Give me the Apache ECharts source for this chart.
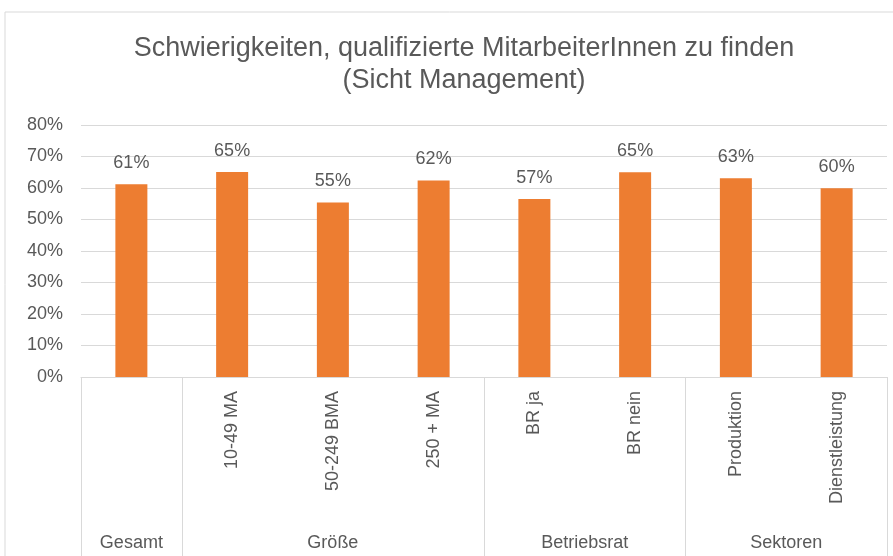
<!DOCTYPE html>
<html>
<head>
<meta charset="utf-8">
<script src="https://cdn.jsdelivr.net/npm/echarts@6/dist/echarts.min.js"></script>
<style>
  html, body { margin: 0; padding: 0; background: #fff; }
  #chart { width: 893px; height: 556px; }
</style>
</head>
<body>
<div id="chart"></div>
<script>
  var categories = ['', '10-49 MA', '50-249 BMA', '250 + MA', 'BR ja', 'BR nein', 'Produktion', 'Dienstleistung'];
  var values = [61.2, 65.1, 55.4, 62.4, 56.5, 65.0, 63.1, 59.9];
  var groupNames = ['Gesamt', 'Größe', 'Betriebsrat', 'Sektoren'];
  var groupCenters = [0.5, 2.5, 5, 7];
  var groupBounds = [0, 1, 4, 6, 8];
  var yTicks = [0, 10, 20, 30, 40, 50, 60, 70, 80];

  var textColor = '#595959';
  var lineColor = '#d9d9d9';
  var font = "'Liberation Sans', Arial, sans-serif";

  var myChart = echarts.init(document.getElementById('chart'));
  var option = {
    animation: false,
    textStyle: { fontFamily: font },
    graphic: [{
      type: 'rect',
      z: -10,
      shape: { x: 5, y: 12, width: 900, height: 560 },
      style: { fill: 'none', stroke: lineColor, lineWidth: 1 }
    }],
    title: {
      text: 'Schwierigkeiten, qualifizierte MitarbeiterInnen zu finden\n(Sicht Management)',
      left: 459,
      top: 28,
      textAlign: 'center',
      textStyle: {
        fontFamily: font,
        fontSize: 27,
        fontWeight: 'normal',
        color: textColor,
        lineHeight: 32
      }
    },
    grid: {
      left: 81,
      right: 6,
      top: 125,
      bottom: 179,
      containLabel: false
    },
    xAxis: [{
      type: 'category',
      data: categories,
      axisLine: { show: true, lineStyle: { color: lineColor } },
      axisTick: { show: false },
      axisLabel: {
        rotate: 90,
        margin: 14,
        fontSize: 18,
        color: textColor,
        fontFamily: font
      }
    }, {
      type: 'value',
      position: 'bottom',
      min: 0,
      max: 8,
      axisLine: { show: false },
      splitLine: { show: false },
      axisTick: {
        show: true,
        customValues: groupBounds,
        length: 179,
        lineStyle: { color: lineColor }
      },
      axisLabel: {
        customValues: groupCenters,
        margin: 157,
        fontSize: 18,
        color: textColor,
        fontFamily: font,
        formatter: function (v) {
          return groupNames[groupCenters.indexOf(v)];
        }
      }
    }],
    yAxis: {
      type: 'value',
      min: yTicks[0],
      max: yTicks[yTicks.length - 1],
      interval: 10,
      axisLine: { show: false },
      axisTick: { show: false },
      splitLine: { lineStyle: { color: lineColor } },
      axisLabel: {
        margin: 18,
        fontSize: 18,
        color: textColor,
        fontFamily: font,
        formatter: '{value}%'
      }
    },
    series: [{
      type: 'bar',
      data: values,
      barWidth: 32,
      itemStyle: { color: '#ED7D31' },
      label: {
        show: true,
        position: 'top',
        distance: 12,
        fontSize: 18,
        color: textColor,
        fontFamily: font,
        formatter: function (p) {
          return Math.round(p.value) + '%';
        }
      }
    }]
  };
  myChart.setOption(option);
</script>
</body>
</html>
